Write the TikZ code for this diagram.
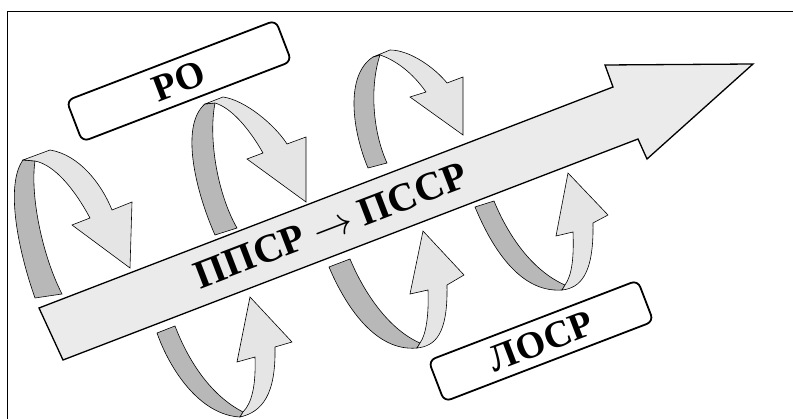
\RequirePackage{fix-cm}
\documentclass[tikz,border=0pt]{standalone}
\usepackage{fontspec}
\setmainfont{Liberation Serif}

\definecolor{bandfill}{gray}{0.92}
\definecolor{frontfill}{gray}{0.9}
\definecolor{backfill}{gray}{0.72}

\tikzset{
    ribbonback/.style={draw=black, line width=0.6pt, fill=backfill},
    ribbonfront/.style={draw=black, line width=0.6pt, fill=frontfill},
    labelbox/.style={draw, line width=1.8pt, rounded corners=7pt, rotate=21,
        minimum width=224pt, minimum height=44pt, inner sep=0pt, text depth=0pt,
        font=\fontsize{38}{38}\selectfont\bfseries},
}

\begin{document}
\begin{tikzpicture}[x=1pt,y=-1pt]
    \useasboundingbox (0,0) rectangle (793,419);
    \draw[line width=0.9pt] (7,419) -- (7,11) -- (793,11);

    % upper loops
    \draw[ribbonback] (35,298) .. controls (18,250) and (5,185) .. (23,160) -- (35,161) .. controls (30,195) and (42,255) .. (62,294) -- cycle;
    \draw[ribbonfront] (23,160) -- (50,150) .. controls (80,155) and (102,185) .. (112,210) -- (132,202) -- (130,268) -- (72,225) -- (90,218) .. controls (75,190) and (55,165) .. (35,161) -- cycle;

    \draw[ribbonback] (215,235) .. controls (195,190) and (180,125) .. (205,104) -- (215,103) .. controls (208,140) and (218,195) .. (237,228) -- cycle;
    \draw[ribbonfront] (205,104) -- (223,97) .. controls (245,100) and (275,125) .. (287,144) -- (306,137) -- (306,202) -- (247,159) -- (263,153) .. controls (250,130) and (232,108) .. (215,103) -- cycle;

    \draw[ribbonback] (368,168) .. controls (352,130) and (345,75) .. (373,57) -- (380,55) .. controls (370,85) and (372,130) .. (387,163) -- cycle;
    \draw[ribbonfront] (373,57) -- (390,50) .. controls (410,50) and (435,68) .. (447,83) -- (463,77) -- (463,135) -- (410,97) -- (426,92) .. controls (412,72) and (395,60) .. (380,55) -- cycle;

    % lower loops
    \draw[ribbonback] (157,333) .. controls (170,370) and (200,415) .. (240,417) -- (243,412) .. controls (210,395) and (188,360) .. (175,326) -- cycle;
    \draw[ribbonfront] (243,412) -- (240,417) .. controls (262,412) and (276,395) .. (275,347) -- (292,342) -- (250,297) -- (237,362) -- (255,357) .. controls (256,385) and (252,403) .. (243,412) -- cycle;

    \draw[ribbonback] (329,267) .. controls (345,305) and (375,352) .. (417,348) -- (420,343) .. controls (390,330) and (365,295) .. (350,259) -- cycle;
    \draw[ribbonfront] (420,343) -- (417,348) .. controls (435,346) and (448,335) .. (447,285) -- (464,275) -- (423,231) -- (410,294) -- (428,290) .. controls (429,315) and (426,335) .. (420,343) -- cycle;

    \draw[ribbonback] (475,207) .. controls (492,248) and (520,293) .. (562,290) -- (565,285) .. controls (535,272) and (510,240) .. (494,201) -- cycle;
    \draw[ribbonfront] (565,285) -- (562,290) .. controls (580,288) and (594,275) .. (593,223) -- (608,215) -- (568,173) -- (556,236) -- (573,232) .. controls (574,258) and (572,275) .. (565,285) -- cycle;

    % main arrow
    \draw[line width=1.3pt, fill=bandfill] (39,308) -- (613,87) -- (605,65) -- (753,64) -- (647,159) -- (638,139) -- (63,360) -- cycle;
    \node[rotate=21, inner sep=0pt, text depth=0pt, font=\fontsize{40}{40}\selectfont\bfseries] (flow) at (331,225) {ППСР $\rightarrow$ ПССР};

    \node[labelbox] (RO) at (179,81) {РО};
    \node[labelbox] (LOSR) at (541,341) {ЛОСР};
\end{tikzpicture}
\end{document}
